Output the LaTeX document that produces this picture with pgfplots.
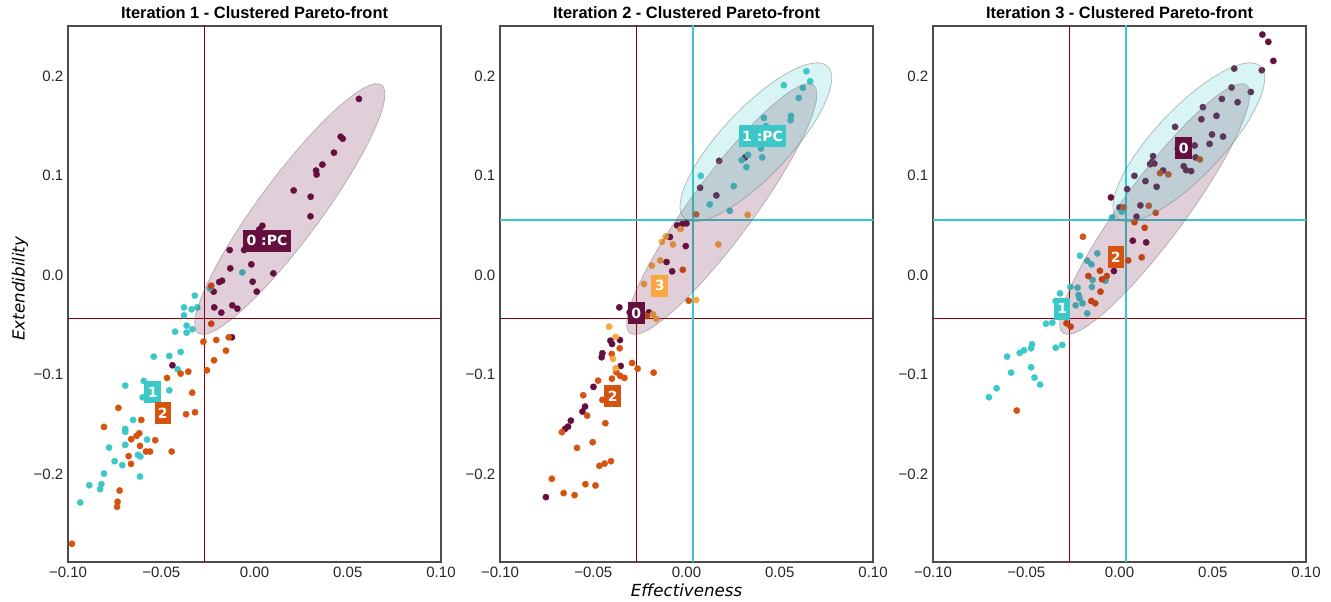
\documentclass[border=0pt]{standalone}
\usepackage{fontspec}
\setmainfont{Liberation Sans}
\newfontfamily\dejavu{DejaVu Sans}
\usepackage{pgfplots}
\pgfplotsset{compat=1.18}

\definecolor{cmaroon}{HTML}{650F3F}
\definecolor{ccyan}{HTML}{3CC8C8}
\definecolor{corange}{HTML}{D5520F}
\definecolor{clight}{HTML}{F8A83E}
\definecolor{lred}{HTML}{8B0000}

\pgfplotsset{
  panel/.style={
    scale only axis, width=279.75pt, height=402pt, anchor=south west,
    xmin=-0.1, xmax=0.1, ymin=-0.2884, ymax=0.2503,
    xtick={-0.1,-0.05,0,0.05,0.1},
    xticklabels={−0.10,−0.05,0.00,0.05,0.10},
    ytick={-0.2,-0.1,0,0.1,0.2},
    yticklabels={−0.2,−0.1,0.0,0.1,0.2},
    major tick length=0pt,
    clip marker paths=true,
    tick label style={font=\fontsize{11.25}{13}\selectfont, text=black!85},
    axis line style={black!70, line width=0.8pt},
    title style={font=\fontsize{12.3}{14}\selectfont\bfseries, yshift=-4pt},
    label style={font=\dejavu\itshape\fontsize{12.5}{14}\selectfont},
  },
  pts/.style={only marks, mark=*, color=#1, mark size=2.4pt, mark options={line width=0.2pt}},
  thr/.style={#1, line width=1pt, forget plot},
}
\tikzset{
  clab/.style={fill=#1, text=white, font=\dejavu\bfseries\fontsize{10.5}{12}\selectfont,
    inner xsep=2.5pt, inner ysep=0pt, minimum height=16.5pt, anchor=center},
  ellm/.style={fill=cmaroon, fill opacity=0.2, draw=black!55, draw opacity=0.45, line width=0.6pt},
  ellc/.style={fill=ccyan, fill opacity=0.2, draw=black!55, draw opacity=0.45, line width=0.6pt},
}

\begin{document}
\begin{tikzpicture}

% ---------------- Iteration 1 ----------------
\begin{axis}[panel, at={(0pt,0pt)},
  title={Iteration 1 - Clustered Pareto-front},
  ylabel={Extendibility},
  ylabel style={at={(axis description cs:-0.1287,0.51)}, anchor=center},
]
\addplot[thr=lred] coordinates {(-0.0269,-0.3) (-0.0269,0.3)};
\addplot[thr=lred] coordinates {(-0.11,-0.044) (0.11,-0.044)};

\addplot[pts=cmaroon] coordinates {
(0.056,0.177) (0.0462,0.139) (0.0473,0.137) (0.0426,0.123) (0.0364,0.111)
(0.033,0.105) (0.0333,0.101) (0.021,0.085) (0.0301,0.0787) (0.030,0.059)
(0.0042,0.0495) (0.0026,0.0459) (-0.0133,0.0251) (-0.0056,0.0251) (-0.013,0.0067)
(-0.0017,0.0107) (0.0101,0.0017) (-0.0174,-0.0057) (-0.0189,-0.007) (-0.001,-0.0067)
(-0.0219,-0.0167) (0.0012,-0.0167) (-0.0216,-0.0325) (-0.0178,-0.0378) (-0.0119,-0.0305)
(-0.0092,-0.0338) (-0.0121,-0.0626) (-0.044,-0.0907)
};
\addplot[pts=ccyan] coordinates {
(-0.0065,0.0027) (-0.032,-0.0207) (-0.0239,-0.0134) (-0.0378,-0.0325) (-0.0337,-0.0345)
(-0.0307,-0.0325) (-0.0378,-0.0405) (-0.0364,-0.0509) (-0.0334,-0.0545) (-0.0364,-0.0579)
(-0.0426,-0.0569) (-0.0396,-0.0773) (-0.0457,-0.0813) (-0.054,-0.082) (-0.0412,-0.0947)
(-0.0594,-0.1064) (-0.0693,-0.1111) (-0.0457,-0.1158) (-0.060,-0.1228) (-0.0651,-0.1456)
(-0.0693,-0.1546) (-0.0693,-0.1576) (-0.0576,-0.1653) (-0.078,-0.1734) (-0.0693,-0.1707)
(-0.0625,-0.1807) (-0.0612,-0.1824) (-0.075,-0.1871) (-0.0709,-0.1911) (-0.0807,-0.1995)
(-0.0614,-0.2025) (-0.0886,-0.2112) (-0.0821,-0.2102) (-0.0828,-0.2152) (-0.0934,-0.2286)
};
\addplot[pts=corange] coordinates {
(-0.0232,-0.0107) (-0.0232,-0.0489) (-0.0274,-0.067) (-0.0205,-0.0653) (-0.0138,-0.0626)
(-0.0153,-0.076) (-0.0217,-0.0857) (-0.0255,-0.0957) (-0.0355,-0.0971) (-0.0396,-0.0991)
(-0.0469,-0.1034) (-0.0334,-0.1182) (-0.073,-0.1335) (-0.0367,-0.1399) (-0.0319,-0.1379)
(-0.0607,-0.1456) (-0.0807,-0.1526) (-0.0618,-0.159) (-0.0632,-0.1616) (-0.0661,-0.165)
(-0.0532,-0.166) (-0.0614,-0.1717) (-0.0675,-0.182) (-0.0582,-0.1774) (-0.056,-0.1774)
(-0.0444,-0.1774) (-0.0662,-0.1898) (-0.0723,-0.2166) (-0.0734,-0.2279) (-0.0737,-0.2329)
(-0.0979,-0.2701)
};

\path[ellm, rotate around={53.5:(axis cs:0.0189,0.0663)}]
  (axis cs:0.0189,0.0663) ellipse [x radius=115.7pt, y radius=23.3pt];

\node[clab=cmaroon] at (axis cs:0.0067,0.0345) {0 :PC};
\node[clab=ccyan] at (axis cs:-0.0546,-0.1175) {1};
\node[clab=corange] at (axis cs:-0.0492,-0.1389) {2};
\end{axis}

% ---------------- Iteration 2 ----------------
\begin{axis}[panel, at={(324pt,0pt)},
  title={Iteration 2 - Clustered Pareto-front},
  xlabel={Effectiveness},
  xlabel style={at={(axis description cs:0.5,0)}, yshift=-21pt, anchor=center},
]
\addplot[thr=lred] coordinates {(-0.0268,-0.3) (-0.0268,0.3)};
\addplot[thr=lred] coordinates {(-0.11,-0.044) (0.11,-0.044)};
\addplot[thr=ccyan] coordinates {(0.0034,-0.3) (0.0034,0.3)};
\addplot[thr=ccyan] coordinates {(-0.11,0.0552) (0.11,0.0552)};

\addplot[pts=cmaroon] coordinates {
(0.0175,0.1148) (0.0314,0.1182) (0.0073,0.0877) (0.016,0.080) (-0.005,0.0499)
(-0.0023,0.0512) (0.0,0.0519) (-0.0089,0.0382) (-0.0004,0.0291) (-0.0107,0.0131)
(-0.0077,0.0037) (-0.036,-0.0325) (-0.0305,-0.0375) (-0.0202,-0.0375) (-0.0408,-0.066)
(-0.0399,-0.0693) (-0.0357,-0.0653) (-0.0451,-0.0786) (-0.0455,-0.0826) (-0.0353,-0.0914)
(-0.0499,-0.1124) (-0.0544,-0.1322) (-0.0558,-0.1372) (-0.062,-0.1463) (-0.0635,-0.1523)
(-0.0651,-0.1546) (-0.0754,-0.2232)
};
\addplot[pts=ccyan] coordinates {
(0.0643,0.2048) (0.0522,0.1908) (0.0663,0.1948) (0.0624,0.1881) (0.0602,0.178)
(0.056,0.16) (0.0558,0.1556) (0.0415,0.158) (0.0426,0.1496) (0.0399,0.1272)
(0.033,0.1208) (0.0296,0.1155) (0.0406,0.1182) (0.0321,0.1084) (0.0077,0.0997)
(0.0253,0.0894) (0.0125,0.071) (0.0232,0.0646)
};
\addplot[pts=corange] coordinates {
(0.0052,0.0609) (-0.002,0.0053) (0.0012,-0.0258) (-0.0212,-0.0412) (-0.0358,-0.0736)
(-0.0401,-0.0793) (-0.0292,-0.0884) (-0.0262,-0.0941) (-0.0176,-0.0981) (-0.0376,-0.0977)
(-0.0355,-0.1014) (-0.0333,-0.1034) (-0.040,-0.1041) (-0.0474,-0.1061) (-0.0554,-0.1208)
(-0.0451,-0.1255) (-0.0533,-0.1413) (-0.0435,-0.1489) (-0.0668,-0.1579) (-0.0503,-0.168)
(-0.0587,-0.1737) (-0.0405,-0.1871) (-0.0439,-0.1895) (-0.0467,-0.1918) (-0.0722,-0.2048)
(-0.0542,-0.2102) (-0.0488,-0.2115) (-0.0659,-0.2192) (-0.060,-0.2212)
};
\addplot[pts=clight] coordinates {
(0.0328,0.0605) (-0.0032,0.0462) (-0.0111,0.0388) (-0.0132,0.0334) (-0.0073,0.0308)
(0.0171,0.0308) (-0.0141,0.0147) (-0.0186,0.0094) (-0.0228,-0.009) (0.0052,-0.0251)
(-0.018,-0.0395) (-0.0162,-0.0442) (-0.0415,-0.0519) (-0.038,-0.0622) (-0.0394,-0.0843)
(-0.038,-0.0937)
};

\path[ellm, rotate around={53.5:(axis cs:0.0189,0.0663)}]
  (axis cs:0.0189,0.0663) ellipse [x radius=115.7pt, y radius=23.3pt];
\path[ellc, rotate around={46.6:(axis cs:0.0372,0.1335)}]
  (axis cs:0.0372,0.1335) ellipse [x radius=78.3pt, y radius=25.5pt];

\node[clab=ccyan] at (axis cs:0.0408,0.1396) {1 :PC};
\node[clab=clight] at (axis cs:-0.0144,-0.0107) {3};
\node[clab=cmaroon] at (axis cs:-0.0269,-0.0385) {0};
\node[clab=corange] at (axis cs:-0.0396,-0.1215) {2};
\end{axis}

% ---------------- Iteration 3 ----------------
\begin{axis}[panel, at={(648.75pt,0pt)},
  title={Iteration 3 - Clustered Pareto-front},
]
\addplot[thr=lred] coordinates {(-0.0268,-0.3) (-0.0268,0.3)};
\addplot[thr=lred] coordinates {(-0.11,-0.044) (0.11,-0.044)};
\addplot[thr=ccyan] coordinates {(0.0034,-0.3) (0.0034,0.3)};
\addplot[thr=ccyan] coordinates {(-0.11,0.0552) (0.11,0.0552)};

\addplot[pts=cmaroon] coordinates {
(0.0766,0.2417) (0.0798,0.2343) (0.0825,0.2152) (0.0763,0.2058) (0.0615,0.2075)
(0.0601,0.1885) (0.0704,0.184) (0.0549,0.177) (0.0633,0.1737) (0.0447,0.1687)
(0.0520,0.16) (0.0439,0.1566) (0.0298,0.1489) (0.0496,0.1413) (0.0555,0.1392)
(0.0483,0.1318) (0.0312,0.1272) (0.0403,0.1302) (0.0408,0.1182) (0.0180,0.1195)
(0.0175,0.1138) (0.0164,0.1114) (0.0187,0.1121) (0.0234,0.1051) (0.0344,0.1094)
(0.0357,0.1054) (0.0384,0.1044) (0.008,0.0997) (0.0139,0.0944) (0.0199,0.0887)
(0.0041,0.0863) (-0.0046,0.078) (0.0,0.068) (0.0112,0.07) (0.0091,0.0586)
(0.0071,0.0345) (0.0143,0.0328) (-0.003,0.004)
};
\addplot[pts=ccyan] coordinates {
(-0.0041,0.0579) (0.0012,0.0636) (-0.0212,0.0194) (-0.0173,0.0144) (-0.0119,0.0218)
(-0.015,0.0107) (-0.0075,-0.0057) (-0.0144,-0.005) (-0.0148,-0.012) (-0.0264,-0.012)
(-0.0225,-0.0127) (-0.022,-0.0201) (-0.0214,-0.0234) (-0.0319,-0.0184) (-0.0342,-0.0261)
(-0.0198,-0.0284) (-0.0235,-0.0305) (-0.0173,-0.0385) (-0.0394,-0.0489) (-0.036,-0.0479)
(-0.0342,-0.073) (-0.0307,-0.0703) (-0.0469,-0.0696) (-0.0474,-0.0736) (-0.0512,-0.0756)
(-0.0535,-0.0783) (-0.0603,-0.082) (-0.0581,-0.0981) (-0.0474,-0.0927) (-0.0456,-0.1031)
(-0.0426,-0.1101) (-0.0659,-0.1138) (-0.070,-0.1228)
};
\addplot[pts=corange] coordinates {
(0.0021,0.068) (0.0157,0.0696) (0.0194,0.0626) (0.008,0.0532) (0.0135,0.0475)
(0.0217,0.1024) (0.0262,0.1011) (0.0431,0.1162) (-0.0196,0.0385) (0.0119,0.0178)
(0.0047,0.0147) (-0.0105,0.0043) (-0.0167,-0.001) (-0.0094,-0.0043) (-0.0068,-0.001)
(-0.0102,-0.0167) (-0.0151,-0.0261) (-0.013,-0.0284) (-0.0285,-0.0485) (-0.0262,-0.0519)
(-0.0551,-0.1362)
};

\path[ellm, rotate around={53.5:(axis cs:0.0189,0.0663)}]
  (axis cs:0.0189,0.0663) ellipse [x radius=115.7pt, y radius=23.3pt];
\path[ellc, rotate around={46.6:(axis cs:0.0372,0.1335)}]
  (axis cs:0.0372,0.1335) ellipse [x radius=78.3pt, y radius=25.5pt];

\node[clab=cmaroon] at (axis cs:0.0344,0.1272) {0};
\node[clab=corange] at (axis cs:-0.002,0.0181) {2};
\node[clab=ccyan] at (axis cs:-0.0307,-0.0338) {1};
\end{axis}

\pgfresetboundingbox
\path (-51pt,-30pt) rectangle (947.25pt,421.5pt);
\end{tikzpicture}
\end{document}
